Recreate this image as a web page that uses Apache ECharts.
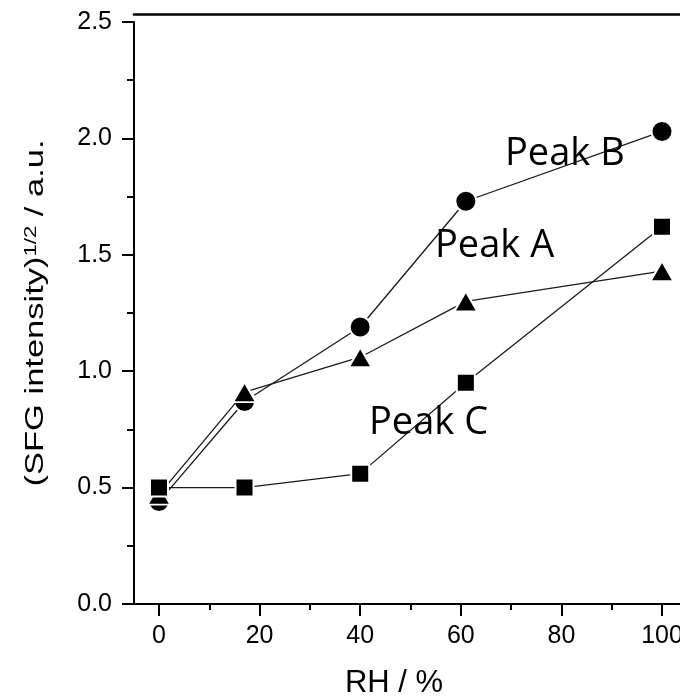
<!DOCTYPE html>
<html>
<head>
<meta charset="utf-8">
<style>html,body{margin:0;padding:0;background:#fff}#c{width:680px;height:697px}</style>
<script src="https://cdn.jsdelivr.net/npm/echarts@6/dist/echarts.min.js"></script>
</head>
<body>
<div id="c"></div>
<script>
const rh = [0, 17, 40, 61, 100];
const peakA = [0.47, 0.91, 1.06, 1.30, 1.43];   // triangles
const peakB = [0.44, 0.87, 1.19, 1.73, 2.03];   // circles
const peakC = [0.50, 0.50, 0.56, 0.95, 1.62];   // squares
const seriesNames = ['Peak A', 'Peak B', 'Peak C'];
const xTitle = 'RH / %';

const chart = echarts.init(document.getElementById('c'), null, {renderer: 'canvas'});
const tickFont = {fontFamily: 'Liberation Sans, Arial, sans-serif', fontSize: 25, color: '#000'};
const lineStyle = {color: '#1a1a1a', width: 1.3};
function mk(name, ys, symbol, size, z) {
  return {
    name: name, type: 'line', xAxisIndex: 2, yAxisIndex: 1,
    data: rh.map((x, i) => [x, ys[i]]),
    symbol: symbol, symbolSize: size, showSymbol: true,
    lineStyle: lineStyle,
    itemStyle: {color: '#000', borderColor: '#fff', borderWidth: 2},
    z: z, animation: false
  };
}
chart.setOption({
  animation: false,
  backgroundColor: '#fff',
  grid: [
    {left: 134, right: -7, top: 22, bottom: 93, containLabel: false, outerBoundsMode: 'none'},
    {left: 159, right: 18, top: 22, bottom: 93, containLabel: false, outerBoundsMode: 'none'}
  ],
  xAxis: [
    {gridIndex: 0, type: 'value', min: -5, max: 105, position: 'bottom',
     axisLine: {show: true, onZero: false, lineStyle: {color: '#000', width: 2}},
     axisTick: {show: false}, axisLabel: {show: false}, splitLine: {show: false}},
    {gridIndex: 0, type: 'value', min: -5, max: 105, position: 'top', offset: 8,
     axisLine: {show: true, onZero: false, lineStyle: {color: '#000', width: 2.5}},
     axisTick: {show: false}, axisLabel: {show: false}, splitLine: {show: false}},
    {gridIndex: 1, type: 'value', min: 0, max: 100, interval: 20, position: 'bottom',
     axisLine: {show: false, onZero: false},
     axisTick: {show: true, length: 12, lineStyle: {color: '#000', width: 2}},
     minorTick: {show: true, splitNumber: 2, length: 6, lineStyle: {color: '#000', width: 2}},
     axisLabel: Object.assign({margin: 20}, tickFont),
     splitLine: {show: false},
     name: xTitle, nameLocation: 'middle', nameGap: 64,
     nameTextStyle: {fontFamily: 'Liberation Sans, Arial, sans-serif', fontSize: 31, color: '#000', padding: [0, 33, 0, 0]}}
  ],
  yAxis: [
    {gridIndex: 0, type: 'value', min: 0, max: 2.5, interval: 0.5, position: 'left',
     axisLine: {show: true, onZero: false, lineStyle: {color: '#000', width: 2}},
     axisTick: {show: true, length: 12, lineStyle: {color: '#000', width: 2}},
     minorTick: {show: true, splitNumber: 2, length: 7, lineStyle: {color: '#000', width: 2}},
     axisLabel: Object.assign({margin: 22, formatter: v => v.toFixed(1)}, tickFont),
     splitLine: {show: false}},
    {gridIndex: 1, type: 'value', min: 0, max: 2.5, show: false}
  ],
  series: [
    mk(seriesNames[1], peakB, 'circle', 21, 2),
    mk(seriesNames[0], peakA, 'triangle', [23, 20], 3),
    mk(seriesNames[2], peakC, 'rect', 18, 4)
  ],
  graphic: [
    {type: 'text', x: 36, y: 313, rotation: Math.PI / 2, scaleX: 1.38, scaleY: 1,
     style: {
       text: '{m|(SFG intensity)}{s|1/2}{m| / a.u.}',
       align: 'center', verticalAlign: 'middle',
       rich: {
         m: {fontFamily: 'Liberation Sans, Arial, sans-serif', fontSize: 25, fill: '#000'},
         s: {fontFamily: 'Liberation Sans, Arial, sans-serif', fontSize: 16, fill: '#000', verticalAlign: 'top'}
       }
     }, z: 10},
    {type: 'text', x: 505, y: 154, style: {text: seriesNames[1], fontFamily: 'Open Sans', fontSize: 38, fill: '#000', align: 'left', verticalAlign: 'middle'}, z: 10},
    {type: 'text', x: 435, y: 246, style: {text: seriesNames[0], fontFamily: 'Open Sans', fontSize: 38, fill: '#000', align: 'left', verticalAlign: 'middle'}, z: 10},
    {type: 'text', x: 369, y: 423, style: {text: seriesNames[2], fontFamily: 'Open Sans', fontSize: 38, fill: '#000', align: 'left', verticalAlign: 'middle'}, z: 10}
  ]
});
</script>
</body>
</html>
